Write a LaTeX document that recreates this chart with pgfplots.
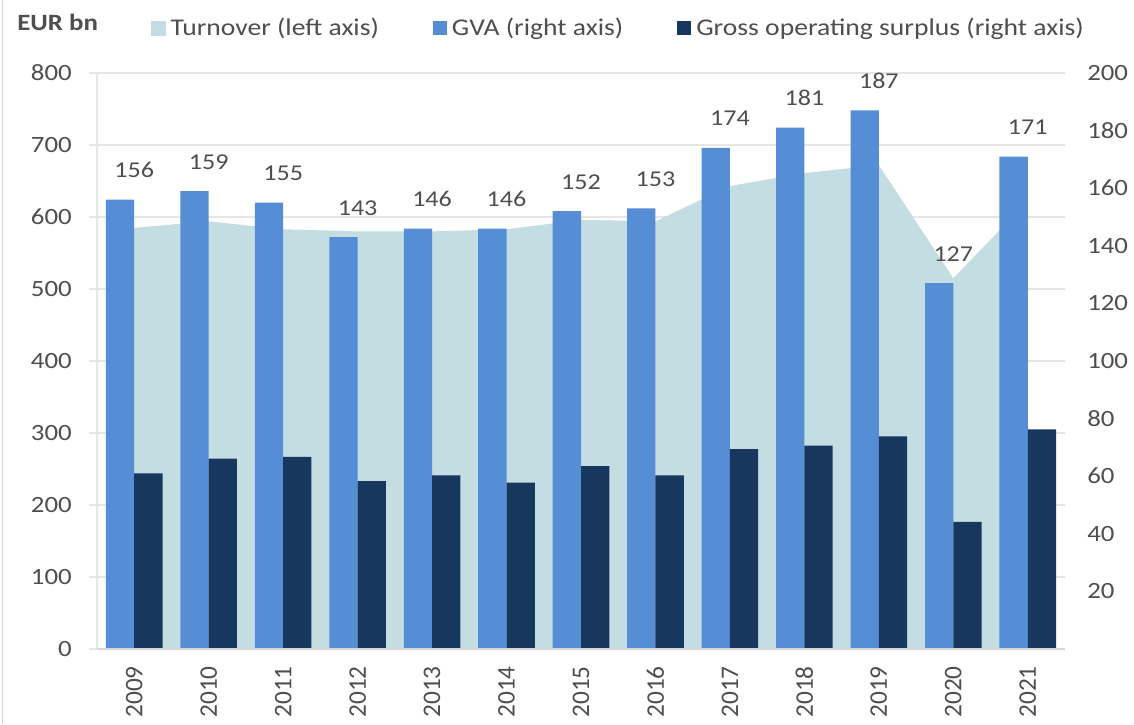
\documentclass[border=0pt]{standalone}
\usepackage{fontspec}
\setmainfont{Carlito}[FakeStretch=1.15]
\newfontfamily\plainfont{Carlito}
\usepackage{pgfplots}
\usepackage{pgfplotstable}
\pgfplotsset{compat=1.18}
\definecolor{turnc}{RGB}{195,221,227}
\definecolor{gvac}{RGB}{85,142,213}
\definecolor{gosc}{RGB}{23,55,94}
\definecolor{txt}{RGB}{78,78,78}
\definecolor{gridc}{RGB}{230,230,230}
\definecolor{basec}{RGB}{214,214,214}
\pgfplotstableread{
x year turnover gva gos
0 2009 585 156 61.0
1 2010 594 159 66.1
2 2011 583 155 66.7
3 2012 580 143 58.3
4 2013 580 146 60.3
5 2014 583 146 57.8
6 2015 596 152 63.5
7 2016 594 153 60.3
8 2017 643 174 69.4
9 2018 661 181 70.6
10 2019 672 187 73.8
11 2020 515 127 44.1
12 2021 622 171 76.3
}\data
\pgfplotsset{/pgf/number format/assume math mode=true}
\begin{document}
\begin{tikzpicture}
\useasboundingbox (-72.75pt,-56.25pt) rectangle (777.75pt,486.75pt);
\begin{axis}[
  at={(0pt,0pt)}, anchor=south west,
  scale only axis, width=726pt, height=432pt,
  xmin=-0.5, xmax=12.5, ymin=0, ymax=800,
  separate axis lines,
  axis x line*=bottom, axis y line*=left,
  x axis line style={draw=none},
  y axis line style={gridc, line width=1.2pt},
  ytick={0,100,...,800},
  ymajorgrids, grid style={gridc, line width=1.2pt},
  ytick style={gridc, line width=1.2pt},
  tick align=outside, major tick length=6pt,
  xtick={0,...,12},
  xticklabels={2009,2010,2011,2012,2013,2014,2015,2016,2017,2018,2019,2020,2021},
  xtick style={draw=none},
  xticklabel style={font=\plainfont\fontsize{19}{22}\selectfont, text=txt, yshift=-6.75pt, rotate=90, anchor=east, inner sep=0pt},
  yticklabel style={font=\fontsize{17.5}{20}\selectfont, text=txt, anchor=east, inner sep=0pt, xshift=-12.75pt},
]
\addplot[fill=turnc, draw=none] table[x=x, y=turnover] {\data} \closedcycle;
\end{axis}
\begin{axis}[
  at={(0pt,0pt)}, anchor=south west,
  scale only axis, width=726pt, height=432pt,
  xmin=-0.5, xmax=12.5, ymin=0, ymax=200,
  clip=false,
  axis x line=none, axis y line*=right,
  y axis line style={draw=none},
  ytick={20,40,...,200}, ytick style={draw=none},
  major tick length=0pt,
  yticklabel style={font=\fontsize{17.5}{20}\selectfont, text=txt, anchor=west, inner sep=0pt, xshift=16.5pt},
  legend columns=3,
  legend style={at={(0.0558,1.078)}, anchor=west, draw=none, fill=none, inner sep=0pt, outer sep=0pt,
    font=\fontsize{18}{21}\selectfont, text=txt,
    nodes={inner xsep=3.75pt, inner ysep=0pt},
    /tikz/every even column/.append style={column sep=36.75pt}},
]
\addlegendimage{legend image code/.code={\fill[turnc] (0pt,-5.25pt) rectangle (10.5pt,5.25pt);}}
\addlegendentry{Turnover (left axis)}
\addplot[ybar, bar width=0.38, bar shift=-0.19, fill=gvac, draw=none,
  legend image code/.code={\fill[gvac] (0pt,-5.25pt) rectangle (10.5pt,5.25pt);},
  nodes near coords,
  nodes near coords style={font=\fontsize{17}{20}\selectfont, text=txt, anchor=base, inner sep=0pt, yshift=16.5pt}]
  table[x=x, y=gva] {\data};
\addlegendentry{GVA (right axis)}
\addplot[ybar, bar width=0.38, bar shift=0.19, fill=gosc, draw=none,
  legend image code/.code={\fill[gosc] (0pt,-5.25pt) rectangle (10.5pt,5.25pt);}]
  table[x=x, y=gos] {\data};
\addlegendentry{Gross operating surplus (right axis)}
\draw[basec, line width=2pt] (rel axis cs:0,0) -- (rel axis cs:1,0);
\node[anchor=west, inner sep=0pt, text=txt, font=\bfseries\fontsize{17.5}{20}\selectfont] at (rel axis cs:-0.0826,1.0885) {EUR bn};
\end{axis}
\draw[basec, line width=0.8pt] (-71pt,-56.25pt) -- (-71pt,486.75pt);
\end{tikzpicture}
\end{document}
